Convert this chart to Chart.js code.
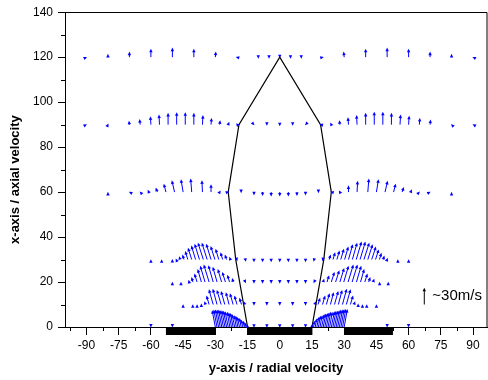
<!DOCTYPE html>
<html>
<head>
<meta charset="utf-8">
<script src="https://cdn.jsdelivr.net/npm/chart.js@4.4.1/dist/chart.umd.min.js"></script>
<style>
  html, body { margin: 0; padding: 0; background: #fff; }
</style>
</head>
<body>
<canvas id="c" width="488" height="380"></canvas>
<script>
// ---- axis ticks ----
const xTicks = [-90, -75, -60, -45, -30, -15, 0, 15, 30, 45, 60, 75, 90];
const xMinor = [-97.5, -82.5, -67.5, -52.5, -37.5, -22.5, -7.5, 7.5, 22.5, 37.5, 52.5, 67.5, 82.5];
const yTicks = [0, 20, 40, 60, 80, 100, 120, 140];
const yMinor = [10, 30, 50, 70, 90, 110, 130];

// ---- velocity vectors, one set of arrays per measuring height (x-axis value) ----
// positions on the radial axis, radial (u) and axial (v) velocity in m/s
const r120X = [-90,-80,-70,-60,-50,-40,-30,-20,-10,-5,0,5,10,20,30,40,50,60,70,80,90];
const r120U = [1,0,0,0,0,0,1,-2,0,0,0,0,0,2,-1,0,0,0,0,0,-1];
const r120V = [0.5,6,10,15,17,15,10,0.5,-3,-3,-2,-3,-3,0.5,10,15,17,15,10,6,0.5];

const r90X = [-90,-80,-70,-65,-60,-56,-52,-48,-44,-40,-36,-32,-28,-24,-19,-12,-6,0,6,12,19,24,28,32,36,40,44,48,52,56,60,65,70,80,90];
const r90U = [1,1,-1,-1,-1,-1,0,0,0,0,1,1,1,2,2,1,0,0,0,-1,-2,-2,-1,-1,-1,0,0,0,0,1,1,1,1,-1,-1];
const r90V = [0.5,2,7,10,15,18,21,22,22,21,17,12,8,5,0.5,-1,-2,-3,-2,-1,0.5,4,8,13,17,21,23,23,21,18,16,12,9,1,0.5];

const r60X = [-80,-70,-65,-61,-57,-53,-49,-45,-41,-36,-32,-28,-24,-18,-12,-8,-4,0,4,8,12,18,24,28,32,36,41,45,49,53,57,61,65,70,80];
const r60U = [0,-1,-1,-2,-3,-4,-5,-4,-2,-1,0,2,2,0,0,0,0,0,0,0,0,0,-2,-2,0,1,2,4,5,4,3,2,1,1,0];
const r60V = [0.5,0.5,1,4,8,15,21,23,24,21,14,3,0.5,-2,-6,-7,-8,-8,-8,-7,-6,-2,0.5,3,12,20,24,23,20,15,9,5,1,0.5,0.5];

const r30X = [-60,-55,-50,-48.2,-46.4,-44.6,-42.8,-41,-39.2,-37.4,-35.6,-33.8,-32,-30.2,-28.4,-26.6,-24.8,-23,
              -20,-16,-12,-8,-4,0,4,8,12,16,20,
              23,24.8,26.6,28.4,30.2,32,33.8,35.6,37.4,39.2,41,42.8,44.6,46.4,48.2,50,55,60];
const r30U = [0,0,0,-1,-2,-3,-5,-7,-8,-9,-10,-10,-9,-8,-6,-4,-3,-2,
              1,1,0,0,0,0,0,0,0,-1,-1,
              3,4,5,6,7,8,9,10,10,10,9,8,6,4,2,1,0,0];
const r30V = [0.5,0.5,1,2,6,9,15,21,25,28,30,30,28,24,19,13,9,5,
              -3,-4,-5,-5,-5,-5,-5,-5,-5,-4,-3,
              9,13,16,19,23,27,30,32,32,30,27,23,18,12,7,3,0.5,0.5];

const r20X = [-50,-46,-42.2,-40.4,-38.5,-36.5,-34.8,-32.9,-31,-29.2,-27.1,-25.3,-23.4,-21.7,
              -16,-12,-8,-4,0,4,8,12,16,
              20.2,22,24,26,28,29.8,31.8,33.7,35.7,37.6,39.6,41.4,43.5,46.5,50.5];
const r20U = [0,0,-1,-3,-5,-7,-9,-10,-9,-8,-7,-6,-4,-2,
              1,0,0,0,0,0,0,0,-1,
              2,4,6,7,8,9,10,10,9,7,5,3,2,0,0];
const r20V = [0.5,0.5,4,9,15,23,29,31,30,27,23,18,13,7,
              -2,-3,-3,-3,-3,-3,-3,-3,-2,
              6,12,18,21,25,29,31,31,29,23,15,9,6,0.5,0.5];

const r10X = [-45,-40.5,-38.5,-36.5,-34.6,-32.9,-31,-29.2,-27.3,-25.6,-23.6,-21.7,-19.9,-17.8,-16.3,
              -12,-6,0,6,12,
              16.3,17.8,19.9,21.7,23.6,25.5,27.3,29.2,31,32.9,34.6,36.5,38.5,40.5,45];
const r10U = [0,0,0,0,-2,-5,-8,-8,-8,-7,-6,-6,-5,-4,-2,
              0,0,0,0,0,
              2,4,5,6,6,7,7,8,8,5,2,0,0,0,0];
const r10V = [0.5,0.5,0.5,2,6,16,27,28,26,24,22,20,16,12,6,
              -2,-2,-2,-2,-2,
              6,12,16,20,22,24,26,28,27,16,6,2,0.5,0.5,0.5];

const r0X = [-60,-50,-30,-29.25,-28.5,-27.75,-27,-26.25,-25.5,-24.75,-24,-23.25,-22.5,-21.75,-21,-20.25,-19.5,-18.75,-18,-17.25,-16.5,-15.75,-15,
             -12,-6,0,6,12,
             15,15.75,16.5,17.25,18,18.75,19.5,20.25,21,21.75,22.5,23.25,24,24.75,25.5,26.25,27,27.75,28.5,29.25,30,50,60];
const r0U = [0,0,-6,-6,-6,-6,-6,-6,-6,-6,-6,-5,-5,-5,-5,-4,-4,-4,-3,-3,-2,-2,-1,
             0,0,0,0,0,
             1,2,3,4,4,4,5,5,5,5,5,5,6,6,6,6,6,6,6,6,6,0,0];
const r0V = [-1,-1,30,31,31,31,31,30,30,29,28,27,26,25,23,21,20,18,16,13,11,8,5,
             -1.5,-1.5,-1.5,-1.5,-1.5,
             6,11,15,18,20,21,23,24,25,26,27,27,28,29,29,30,31,31,32,32,32,-1,-1];

// ---- spray outline and nozzle walls ----
const polyX = [-15, -20.5, -24, -19, 0, 19, 24, 20.5, 15];
const polyY = [0, 30, 60, 90, 120, 90, 60, 30, 0];
const wallFrom = [-53, -15.2, 29.9];
const wallTo   = [-29.8, 15.2, 52.7];

// ---- reference arrow ----
const refX = 67.3, refY = 10, refV = 30;
const refLabel = '~30m/s';

const VEC_SCALE = 0.25;   // axis units per m/s
const FONT = '"Liberation Sans", Arial, sans-serif';

const rows = [
  [120, r120X, r120U, r120V],
  [90, r90X, r90U, r90V],
  [60, r60X, r60U, r60V],
  [30, r30X, r30U, r30V],
  [20, r20X, r20U, r20V],
  [10, r10X, r10U, r10V],
  [0, r0X, r0U, r0V],
];

const datasets = rows.map(([y, xs, us, vs]) => ({
  data: xs.map((x, i) => ({ x, y, u: us[i], v: vs[i] })),
  pointRadius: 0,
  vector: true,
  arrowColor: '#0000ff',
}));
datasets.push({
  data: [{ x: refX, y: refY, u: 0, v: refV }],
  pointRadius: 0,
  vector: true,
  arrowColor: '#000',
  refArrow: true,
});
datasets.unshift({
  data: polyX.map((x, i) => ({ x, y: polyY[i] })),
  showLine: true,
  borderColor: '#000',
  borderWidth: 1.2,
  pointRadius: 0,
  fill: false,
});

function drawArrow(ctx, x0, y0, x1, y1, color) {
  const dx = x1 - x0, dy = y1 - y0;
  const len = Math.hypot(dx, dy) || 1;
  const ux = dx / len, uy = dy / len;
  const hl = 3.6, hw = 1.7;
  ctx.strokeStyle = color;
  ctx.fillStyle = color;
  ctx.lineWidth = 1;
  if (len > hl) {
    ctx.beginPath();
    ctx.moveTo(x0, y0);
    ctx.lineTo(x1 - ux * hl * 0.6, y1 - uy * hl * 0.6);
    ctx.stroke();
  }
  ctx.beginPath();
  ctx.moveTo(x1, y1);
  ctx.lineTo(x1 - ux * hl - uy * hw, y1 - uy * hl + ux * hw);
  ctx.lineTo(x1 - ux * hl + uy * hw, y1 - uy * hl - ux * hw);
  ctx.closePath();
  ctx.fill();
}

const vectorPlugin = {
  id: 'vectors',
  afterDatasetsDraw(chart) {
    const { ctx } = chart;
    const xs = chart.scales.x, ys = chart.scales.y;
    ctx.save();
    chart.data.datasets.forEach((ds, i) => {
      if (!ds.vector) return;
      const meta = chart.getDatasetMeta(i);
      meta.data.forEach((el, j) => {
        const p = ds.data[j];
        const x1 = xs.getPixelForValue(p.x + p.u * VEC_SCALE);
        const y1 = ys.getPixelForValue(p.y + p.v * VEC_SCALE);
        drawArrow(ctx, el.x, el.y, x1, y1, ds.arrowColor);
        if (ds.refArrow) {
          ctx.font = '15px ' + FONT;
          ctx.fillStyle = '#000';
          ctx.textAlign = 'left';
          ctx.textBaseline = 'middle';
          ctx.fillText(refLabel, el.x + 8, (el.y + y1) / 2);
        }
      });
    });
    ctx.restore();
  },
  afterDraw(chart) {
    const { ctx, chartArea: a } = chart;
    const xs = chart.scales.x, ys = chart.scales.y;
    ctx.save();
    ctx.strokeStyle = '#000';
    ctx.lineWidth = 1;
    // frame on top and right
    ctx.beginPath();
    ctx.moveTo(a.left, Math.round(a.top) + 0.5);
    ctx.lineTo(a.right, Math.round(a.top) + 0.5);
    ctx.lineTo(a.right, a.bottom);
    ctx.stroke();
    // minor ticks
    ctx.beginPath();
    xMinor.forEach(v => {
      const px = Math.round(xs.getPixelForValue(v)) + 0.5;
      ctx.moveTo(px, a.bottom);
      ctx.lineTo(px, a.bottom + 4);
    });
    yMinor.forEach(v => {
      const py = Math.round(ys.getPixelForValue(v)) + 0.5;
      ctx.moveTo(a.left, py);
      ctx.lineTo(a.left - 4, py);
    });
    ctx.stroke();
    // nozzle walls below the axis
    ctx.fillStyle = '#000';
    const y0 = ys.getPixelForValue(0);
    wallFrom.forEach((f, i) => {
      const x0 = xs.getPixelForValue(f), x1 = xs.getPixelForValue(wallTo[i]);
      ctx.fillRect(x0, y0, x1 - x0, 8);
    });
    // y title
    ctx.font = 'bold 13px ' + FONT;
    ctx.textAlign = 'center';
    ctx.textBaseline = 'middle';
    ctx.translate(15, (a.top + a.bottom) / 2 + 10);
    ctx.rotate(-Math.PI / 2);
    ctx.fillText('x-axis / axial velocity', 0, 0);
    ctx.restore();
  },
};

new Chart(document.getElementById('c'), {
  type: 'scatter',
  data: { datasets },
  plugins: [vectorPlugin],
  options: {
    responsive: false,
    animation: false,
    devicePixelRatio: 1,
    layout: { padding: { top: 12, right: 1, left: 0, bottom: 0 } },
    plugins: { legend: { display: false }, tooltip: { enabled: false } },
    scales: {
      x: {
        type: 'linear',
        min: -100,
        max: 96.5,
        afterBuildTicks: s => { s.ticks = xTicks.map(value => ({ value })); },
        afterFit: s => { s.height = 53; },
        grid: { drawOnChartArea: false, tickLength: 8, color: '#000' },
        border: { color: '#000', width: 1 },
        ticks: { color: '#000', font: { family: FONT, size: 12 }, padding: 3, maxRotation: 0, autoSkip: false },
        title: {
          display: true,
          text: 'y-axis / radial velocity',
          color: '#000',
          font: { family: FONT, size: 13, weight: 'bold' },
          padding: { top: 0, bottom: 4 },
        },
      },
      y: {
        type: 'linear',
        min: 0,
        max: 140,
        afterBuildTicks: s => { s.ticks = yTicks.map(value => ({ value })); },
        afterFit: s => { s.width = 65; },
        grid: { drawOnChartArea: false, tickLength: 7, color: '#000' },
        border: { color: '#000', width: 1 },
        ticks: { color: '#000', font: { family: FONT, size: 12 }, padding: 5, autoSkip: false },
      },
    },
  },
});
</script>
</body>
</html>
